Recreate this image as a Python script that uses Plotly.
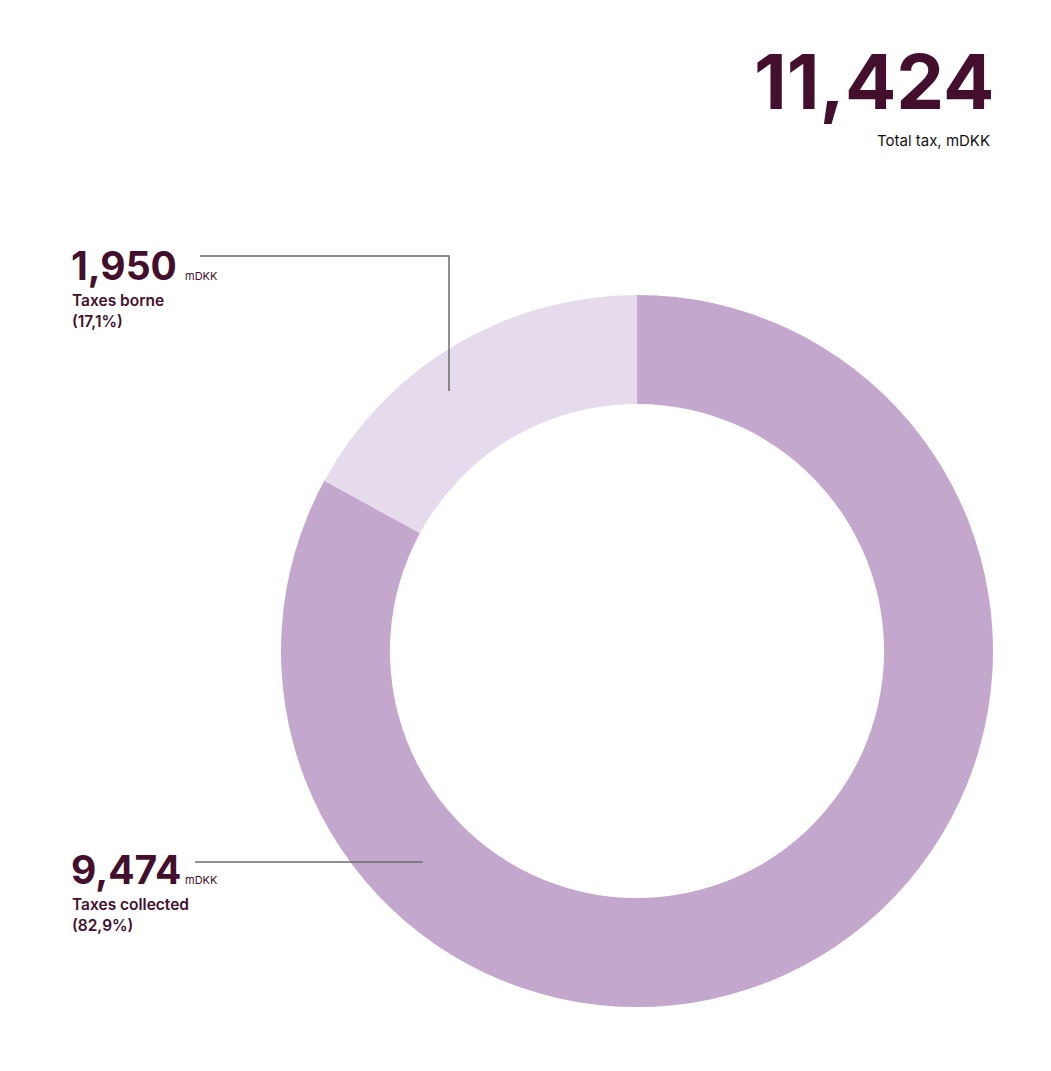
import plotly.graph_objects as go

# page offset of the plot div (body margin) and figure size
OFF = 8
W, H = 1051 - 2 * OFF, 1071 - 2 * OFF

labels = ["Taxes borne", "Taxes collected"]
values = [1950, 9474]
pcts = ["17,1%", "82,9%"]
total_value = "11,424"
total_label = "Total tax, mDKK"
unit = "mDKK"
colors = ["#E6DBEC", "#C4A7CD"]
DARK = "#430F2D"
FONT = "Inter"


def px(x):
    return (x - OFF) / W


def py(y):
    return 1 - (y - OFF) / H


def top_from_baseline(baseline, size):
    return baseline - 0.97 * size


# drawn clockwise from 12 o'clock: collected first, borne ends at 12 o'clock
fig = go.Figure(go.Pie(
    labels=labels[::-1], values=values[::-1], sort=False, direction="clockwise",
    rotation=0, hole=0.694, textinfo="none", hoverinfo="label+value+percent",
    marker=dict(colors=colors[::-1], line=dict(width=0)),
    domain=dict(x=[px(281), px(993)], y=[py(1007), py(295)]),
    showlegend=False,
))

ann = []


def add(x, baseline, text, size, color=DARK, weight=400, anchor="left"):
    ann.append(dict(x=px(x), y=py(top_from_baseline(baseline, size)), xref="paper", yref="paper",
                    xanchor=anchor, yanchor="top", text=text, showarrow=False, borderpad=0,
                    font=dict(family=FONT, size=size, color=color, weight=weight)))


# Total
add(995, 108, total_value, 76, weight=700, anchor="right")
add(991, 145, total_label, 15, color="#111111", anchor="right")

# Slice labels
baselines = [279, 883]
for i in range(2):
    b = baselines[i]
    add(70, b, f"{values[i]:,}", 39, weight=700)
    add(184, b, unit, 11)
    add(71, b + 26, labels[i], 15.5, weight=600)
    add(71, b + 47, f"({pcts[i]})", 15.5, weight=600)

shapes = [
    dict(type="path", xref="paper", yref="paper",
         path=f"M {px(200)},{py(256)} L {px(449)},{py(256)} L {px(449)},{py(391)}",
         line=dict(color="#6B6B6B", width=1.5)),
    dict(type="line", xref="paper", yref="paper", x0=px(195), y0=py(862), x1=px(423), y1=py(862),
         line=dict(color="#6B6B6B", width=1.5)),
]

fig.update_layout(width=W, height=H, margin=dict(l=0, r=0, t=0, b=0),
                  paper_bgcolor="white", plot_bgcolor="white",
                  annotations=ann, shapes=shapes)
fig.write_html("out.html")
